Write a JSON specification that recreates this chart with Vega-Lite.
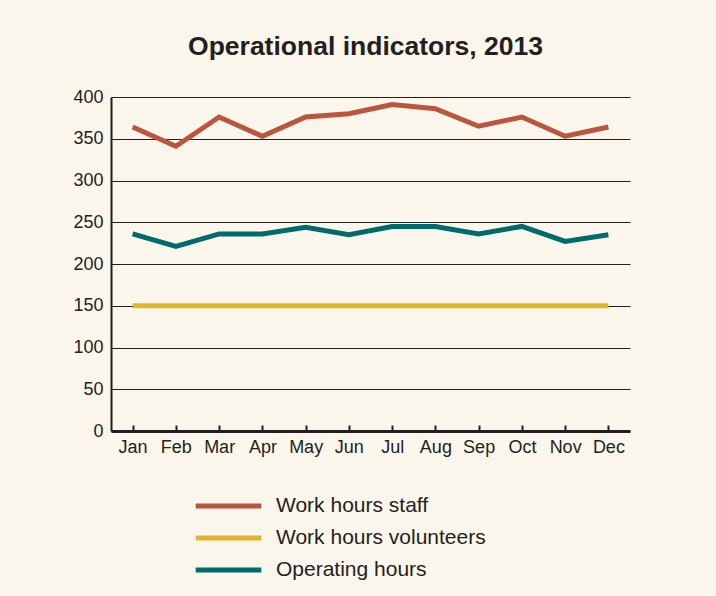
{
  "$schema": "https://vega.github.io/schema/vega-lite/v6.json",
  "autosize": "none",
  "width": 519,
  "height": 334,
  "padding": {"left": 111, "top": 97, "right": 86, "bottom": 165},
  "background": "#FAF6EB",
  "title": {
    "text": "Operational indicators, 2013",
    "font": "Liberation Sans",
    "fontSize": 26.5,
    "fontWeight": "bold",
    "color": "#231F20",
    "anchor": "middle",
    "dx": -5,
    "offset": 28
  },
  "data": {
    "values": [
      {"month": "Jan", "series": "Work hours staff", "value": 364},
      {"month": "Feb", "series": "Work hours staff", "value": 341},
      {"month": "Mar", "series": "Work hours staff", "value": 376},
      {"month": "Apr", "series": "Work hours staff", "value": 353},
      {"month": "May", "series": "Work hours staff", "value": 376},
      {"month": "Jun", "series": "Work hours staff", "value": 380},
      {"month": "Jul", "series": "Work hours staff", "value": 391},
      {"month": "Aug", "series": "Work hours staff", "value": 386},
      {"month": "Sep", "series": "Work hours staff", "value": 365},
      {"month": "Oct", "series": "Work hours staff", "value": 376},
      {"month": "Nov", "series": "Work hours staff", "value": 353},
      {"month": "Dec", "series": "Work hours staff", "value": 364},
      {"month": "Jan", "series": "Work hours volunteers", "value": 150},
      {"month": "Feb", "series": "Work hours volunteers", "value": 150},
      {"month": "Mar", "series": "Work hours volunteers", "value": 150},
      {"month": "Apr", "series": "Work hours volunteers", "value": 150},
      {"month": "May", "series": "Work hours volunteers", "value": 150},
      {"month": "Jun", "series": "Work hours volunteers", "value": 150},
      {"month": "Jul", "series": "Work hours volunteers", "value": 150},
      {"month": "Aug", "series": "Work hours volunteers", "value": 150},
      {"month": "Sep", "series": "Work hours volunteers", "value": 150},
      {"month": "Oct", "series": "Work hours volunteers", "value": 150},
      {"month": "Nov", "series": "Work hours volunteers", "value": 150},
      {"month": "Dec", "series": "Work hours volunteers", "value": 150},
      {"month": "Jan", "series": " Operating hours", "value": 236},
      {"month": "Feb", "series": " Operating hours", "value": 221},
      {"month": "Mar", "series": " Operating hours", "value": 236},
      {"month": "Apr", "series": " Operating hours", "value": 236},
      {"month": "May", "series": " Operating hours", "value": 244},
      {"month": "Jun", "series": " Operating hours", "value": 235},
      {"month": "Jul", "series": " Operating hours", "value": 245},
      {"month": "Aug", "series": " Operating hours", "value": 245},
      {"month": "Sep", "series": " Operating hours", "value": 236},
      {"month": "Oct", "series": " Operating hours", "value": 245},
      {"month": "Nov", "series": " Operating hours", "value": 227},
      {"month": "Dec", "series": " Operating hours", "value": 235}
    ]
  },
  "mark": {"type": "line", "strokeWidth": 5, "strokeCap": "butt", "strokeJoin": "miter"},
  "encoding": {
    "x": {
      "field": "month",
      "type": "ordinal",
      "sort": null,
      "scale": {"type": "point", "padding": 0.5},
      "axis": {
        "title": null,
        "labelAngle": 0,
        "labelFont": "Liberation Sans",
        "labelFontSize": 18,
        "labelColor": "#231F20",
        "labelPadding": 13,
        "tickSize": -6,
        "tickColor": "#231F20",
        "tickWidth": 2,
        "domainColor": "#231F20",
        "domainWidth": 3,
        "grid": false
      }
    },
    "y": {
      "field": "value",
      "type": "quantitative",
      "scale": {"domain": [0, 400], "nice": false},
      "axis": {
        "title": null,
        "values": [0, 50, 100, 150, 200, 250, 300, 350, 400],
        "labelFont": "Liberation Sans",
        "labelFontSize": 18,
        "labelColor": "#231F20",
        "labelPadding": 8,
        "ticks": false,
        "domainColor": "#231F20",
        "domainWidth": 2,
        "grid": true,
        "gridColor": "#231F20",
        "gridWidth": 1.2,
        "gridOpacity": 1
      }
    },
    "color": {
      "field": "series",
      "type": "nominal",
      "sort": ["Work hours staff", "Work hours volunteers", " Operating hours"],
      "scale": {
        "domain": ["Work hours staff", "Work hours volunteers", " Operating hours"],
        "range": ["#BB5540", "#E0B52C", "#006B6B"]
      },
      "legend": {
        "title": null,
        "orient": "none",
        "legendX": 82,
        "legendY": 393,
        "direction": "vertical",
        "symbolType": "stroke",
        "symbolSize": 4300,
        "symbolStrokeWidth": 5,
        "clipHeight": 32,
        "labelFont": "Liberation Sans",
        "labelFontSize": 21,
        "labelColor": "#231F20",
        "labelOffset": 12,
        "rowPadding": 0,
        "labelLimit": 400
      }
    }
  },
  "config": {
    "view": {"stroke": null}
  }
}
